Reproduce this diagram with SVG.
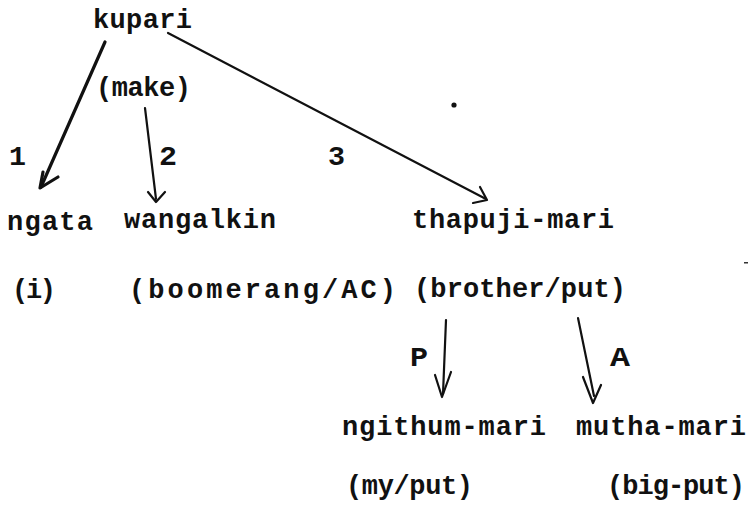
<svg xmlns="http://www.w3.org/2000/svg" width="748" height="510" viewBox="0 0 748 510">
<style>
text{font-family:"Liberation Mono","DejaVu Sans Mono",monospace;font-weight:bold;font-size:27px;fill:#111}
.ln{fill:none;stroke:#111;stroke-width:2.2;stroke-linecap:round;stroke-linejoin:round}
.hv{stroke-width:3.2}
</style>
<rect width="748" height="510" fill="#fff"/>
<g id="connectors">
<path class="ln hv" d="M105,42 L41,187"/>
<path class="ln hv" d="M43,172 L40,188 L58,177"/>
<path class="ln" d="M145,108 L156,199"/>
<path class="ln" d="M148,192 L156,202 L165,192"/>
<path class="ln" d="M168,33 L486,199"/>
<path class="ln" d="M480,187 L487,200 L473,203"/>
<path class="ln" d="M446,320 L443,394"/>
<path class="ln" d="M435,375 L442,397 L451,372"/>
<path class="ln" d="M578,318 L594,396"/>
<path class="ln" d="M583,377 L593,403 L601,385"/>
<text x="9" y="165" textLength="17" lengthAdjust="spacingAndGlyphs">1</text>
<text x="159" y="165" textLength="18" lengthAdjust="spacingAndGlyphs">2</text>
<text x="328" y="165" textLength="17" lengthAdjust="spacingAndGlyphs">3</text>
<text x="410" y="366" textLength="18" lengthAdjust="spacingAndGlyphs">P</text>
<text x="610" y="366" textLength="20" lengthAdjust="spacingAndGlyphs">A</text>
</g>
<g id="node-kupari">
<text x="93" y="28" textLength="99" lengthAdjust="spacing">kupari</text>
<text x="96" y="96" textLength="95" lengthAdjust="spacing">(make)</text>
</g>
<g id="node-ngata">
<text x="7" y="230" textLength="86" lengthAdjust="spacing">ngata</text>
<text x="12" y="298" textLength="44" lengthAdjust="spacing">(i)</text>
</g>
<g id="node-wangalkin">
<text x="124" y="228" textLength="152" lengthAdjust="spacing">wangalkin</text>
<text x="129" y="298" textLength="267" lengthAdjust="spacing">(boomerang/AC)</text>
</g>
<g id="node-thapuji-mari">
<text x="412" y="228" textLength="202" lengthAdjust="spacing">thapuji-mari</text>
<text x="414" y="297" textLength="212" lengthAdjust="spacing">(brother/put)</text>
</g>
<g id="node-ngithum-mari">
<text x="342" y="435" textLength="204" lengthAdjust="spacing">ngithum-mari</text>
<text x="346" y="494" textLength="127" lengthAdjust="spacing">(my/put)</text>
</g>
<g id="node-mutha-mari">
<text x="576" y="435" textLength="170" lengthAdjust="spacing">mutha-mari</text>
<text x="607" y="494" textLength="138" lengthAdjust="spacing">(big-put)</text>
</g>
<circle cx="454" cy="105" r="2.6" fill="#111"/>
<rect x="744" y="262" width="4" height="1.5" fill="#333"/>
</svg>
